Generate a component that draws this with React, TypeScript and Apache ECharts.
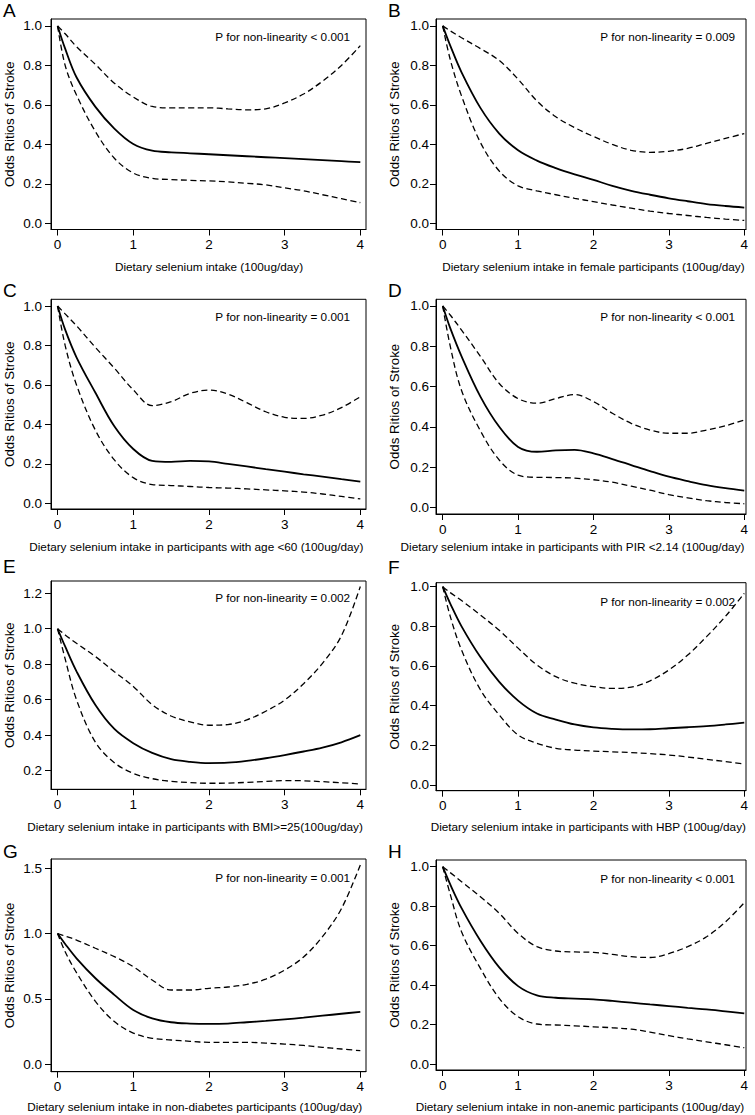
import React, { useEffect, useRef } from "react";
import * as echarts from "echarts";

const FONT = "'Liberation Sans', Arial, Helvetica, sans-serif";

// x positions (100ug/day) at which curves were read
const X = [0, 0.1, 0.25, 0.5, 0.75, 1, 1.25, 1.5, 1.75, 2, 2.25, 2.5, 2.75, 3, 3.25, 3.5, 3.75, 4];

const xTicks = [0, 1, 2, 3, 4];
const yTicksStd = [0, 0.2, 0.4, 0.6, 0.8, 1.0];
const yTicksE = [0.2, 0.4, 0.6, 0.8, 1.0, 1.2];
const yTicksG = [0, 0.5, 1.0, 1.5];

const letters = ["A", "B", "C", "D", "E", "F", "G", "H"];
const xTitles = [
  "Dietary selenium intake (100ug/day)",
  "Dietary selenium intake in female participants (100ug/day)",
  "Dietary selenium intake in participants with age <60 (100ug/day)",
  "Dietary selenium intake in participants with PIR <2.14 (100ug/day)",
  "Dietary selenium intake in participants with BMI>=25(100ug/day)",
  "Dietary selenium intake in participants with HBP (100ug/day)",
  "Dietary selenium intake in non-diabetes participants (100ug/day)",
  "Dietary selenium intake in non-anemic participants (100ug/day)",
];
const pTexts = [
  "P for non-linearity < 0.001",
  "P for non-linearity = 0.009",
  "P for non-linearity = 0.001",
  "P for non-linearity < 0.001",
  "P for non-linearity = 0.002",
  "P for non-linearity = 0.002",
  "P for non-linearity = 0.001",
  "P for non-linearity < 0.001",
];
const yTitle = "Odds Ritios of Stroke";

// Panel A
const aEst = [1.0, 0.885, 0.74, 0.59, 0.48, 0.402, 0.368, 0.36, 0.355, 0.35, 0.345, 0.34, 0.335, 0.33, 0.325, 0.32, 0.315, 0.31];
const aUp = [1.0, 0.96, 0.895, 0.805, 0.71, 0.64, 0.592, 0.585, 0.585, 0.585, 0.58, 0.575, 0.58, 0.61, 0.655, 0.72, 0.8, 0.9];
const aLo = [1.0, 0.8, 0.65, 0.465, 0.33, 0.255, 0.228, 0.222, 0.218, 0.215, 0.21, 0.203, 0.195, 0.18, 0.165, 0.145, 0.125, 0.105];
// Panel B
const bEst = [1.0, 0.9, 0.765, 0.585, 0.455, 0.37, 0.318, 0.28, 0.248, 0.22, 0.19, 0.165, 0.145, 0.127, 0.112, 0.098, 0.088, 0.08];
const bUp = [1.0, 0.975, 0.94, 0.885, 0.825, 0.73, 0.62, 0.54, 0.485, 0.44, 0.4, 0.37, 0.36, 0.365, 0.38, 0.405, 0.43, 0.455];
const bLo = [1.0, 0.83, 0.645, 0.41, 0.265, 0.19, 0.165, 0.145, 0.127, 0.11, 0.093, 0.077, 0.062, 0.05, 0.04, 0.03, 0.022, 0.015];
// Panel C
const cEst = [1.0, 0.88, 0.74, 0.56, 0.39, 0.275, 0.215, 0.21, 0.215, 0.212, 0.2, 0.187, 0.173, 0.16, 0.147, 0.135, 0.122, 0.11];
const cUp = [1.0, 0.96, 0.9, 0.79, 0.685, 0.575, 0.495, 0.515, 0.557, 0.574, 0.554, 0.51, 0.464, 0.436, 0.43, 0.447, 0.485, 0.54];
const cLo = [1.0, 0.8, 0.6, 0.37, 0.22, 0.13, 0.095, 0.09, 0.085, 0.08, 0.077, 0.073, 0.068, 0.063, 0.057, 0.047, 0.035, 0.022];
// Panel D
const dEst = [1.0, 0.89, 0.75, 0.55, 0.4, 0.3, 0.276, 0.283, 0.285, 0.268, 0.24, 0.21, 0.18, 0.152, 0.13, 0.11, 0.095, 0.083];
const dUp = [1.0, 0.955, 0.88, 0.75, 0.615, 0.54, 0.517, 0.54, 0.56, 0.525, 0.467, 0.417, 0.384, 0.368, 0.368, 0.384, 0.405, 0.434];
const dLo = [1.0, 0.8, 0.58, 0.38, 0.235, 0.16, 0.149, 0.148, 0.145, 0.137, 0.125, 0.105, 0.085, 0.063, 0.047, 0.033, 0.024, 0.018];
// Panel E
const eEst = [1.0, 0.9, 0.76, 0.57, 0.435, 0.355, 0.3, 0.265, 0.25, 0.243, 0.245, 0.255, 0.27, 0.288, 0.308, 0.33, 0.36, 0.4];
const eUp = [1.0, 0.965, 0.918, 0.843, 0.758, 0.675, 0.572, 0.508, 0.475, 0.456, 0.46, 0.486, 0.535, 0.598, 0.69, 0.805, 0.96, 1.238];
const eLo = [1.0, 0.83, 0.6, 0.36, 0.245, 0.185, 0.155, 0.14, 0.133, 0.129, 0.13, 0.134, 0.139, 0.144, 0.143, 0.138, 0.132, 0.125];
// Panel F
const fEst = [1.0, 0.915, 0.8, 0.645, 0.52, 0.425, 0.36, 0.33, 0.305, 0.29, 0.283, 0.28, 0.281, 0.286, 0.291, 0.297, 0.305, 0.314];
const fUp = [1.0, 0.97, 0.93, 0.857, 0.78, 0.69, 0.605, 0.546, 0.513, 0.496, 0.487, 0.493, 0.525, 0.58, 0.655, 0.748, 0.85, 0.966];
const fLo = [1.0, 0.85, 0.68, 0.48, 0.353, 0.252, 0.21, 0.185, 0.176, 0.171, 0.167, 0.163, 0.158, 0.151, 0.141, 0.129, 0.118, 0.106];
// Panel G
const gEst = [1.0, 0.92, 0.81, 0.657, 0.53, 0.414, 0.35, 0.32, 0.31, 0.307, 0.31, 0.32, 0.33, 0.342, 0.355, 0.37, 0.385, 0.4];
const gUp = [1.0, 0.98, 0.95, 0.887, 0.823, 0.746, 0.644, 0.567, 0.567, 0.58, 0.59, 0.61, 0.65, 0.72, 0.82, 0.976, 1.19, 1.526];
const gLo = [1.0, 0.86, 0.7, 0.48, 0.325, 0.237, 0.197, 0.184, 0.174, 0.166, 0.166, 0.166, 0.16, 0.153, 0.142, 0.128, 0.115, 0.102];
// Panel H
const hEst = [1.0, 0.91, 0.79, 0.625, 0.49, 0.395, 0.348, 0.336, 0.332, 0.328, 0.32, 0.311, 0.302, 0.294, 0.285, 0.277, 0.267, 0.257];
const hUp = [1.0, 0.97, 0.924, 0.848, 0.764, 0.662, 0.595, 0.573, 0.568, 0.566, 0.556, 0.544, 0.54, 0.56, 0.595, 0.645, 0.72, 0.818];
const hLo = [1.0, 0.86, 0.67, 0.485, 0.333, 0.24, 0.203, 0.198, 0.194, 0.189, 0.184, 0.177, 0.162, 0.144, 0.128, 0.113, 0.098, 0.083];

const estimates = [aEst, bEst, cEst, dEst, eEst, fEst, gEst, hEst];
const uppers = [aUp, bUp, cUp, dUp, eUp, fUp, gUp, hUp];
const lowers = [aLo, bLo, cLo, dLo, eLo, fLo, gLo, hLo];
const yTickSets = [yTicksStd, yTicksStd, yTicksStd, yTicksStd, yTicksE, yTicksStd, yTicksG, yTicksStd];

// layout (pixels) and axis extents per panel
const LEFT = { left: 51, width: 315, xMin: -0.087, xMax: 4.075, labelMargin: 9, letterX: 3, yTitleX: 9, pRight: 350 };
const RIGHT = { left: 436, width: 310, xMin: -0.089, xMax: 4.023, labelMargin: 7, letterX: 388, yTitleX: 394, pRight: 735 };
const layout = [
  { col: LEFT, top: 19, height: 210.5, yMin: -0.031, yMax: 1.035, letterY: 10, pY: 36, xtX: 209, xtY: 266.7 },
  { col: RIGHT, top: 19, height: 210.5, yMin: -0.031, yMax: 1.035, letterY: 10, pY: 36, xtX: 593.4, xtY: 266.7 },
  { col: LEFT, top: 299.3, height: 209.7, yMin: -0.029, yMax: 1.034, letterY: 290, pY: 316.7, xtX: 196.3, xtY: 546.7 },
  { col: RIGHT, top: 299.3, height: 214.7, yMin: -0.033, yMax: 1.033, letterY: 290, pY: 316.7, xtX: 572.5, xtY: 546.7 },
  { col: LEFT, top: 581, height: 208.3, yMin: 0.095, yMax: 1.269, letterY: 566, pY: 597.3, xtX: 195, xtY: 826 },
  { col: RIGHT, top: 582.7, height: 208, yMin: -0.029, yMax: 1.02, letterY: 567.5, pY: 601.7, xtX: 588.3, xtY: 826.7 },
  { col: LEFT, top: 859, height: 212.7, yMin: -0.059, yMax: 1.571, letterY: 851.7, pY: 877.3, xtX: 194.7, xtY: 1106.7 },
  { col: RIGHT, top: 860, height: 210, yMin: -0.03, yMax: 1.034, letterY: 851.7, pY: 878.3, xtX: 580, xtY: 1106.7 },
];

function txt(x: number, y: number, text: string, size: number, align: string, rotation = 0) {
  return {
    type: "text",
    x,
    y,
    rotation,
    silent: true,
    style: {
      text,
      font: `${size}px ${FONT}`,
      fill: "#000",
      align,
      verticalAlign: "middle",
      textAlign: align,
      textVerticalAlign: "middle",
    },
  };
}

export default function App() {
  const ref = useRef<HTMLDivElement>(null);

  useEffect(() => {
    document.body.style.margin = "0";
    if (!ref.current) return;
    const chart = echarts.init(ref.current, undefined, { renderer: "svg" });

    const grids: any[] = [];
    const xAxes: any[] = [];
    const yAxes: any[] = [];
    const series: any[] = [];
    const graphics: any[] = [];

    layout.forEach((L, i) => {
      const C = L.col;
      grids.push({
        left: C.left,
        top: L.top,
        width: C.width,
        height: L.height,
        show: true,
        borderColor: "#000",
        borderWidth: 1,
        backgroundColor: "transparent",
        containLabel: false,
        outerBoundsMode: "none",
      });
      xAxes.push({
        type: "value",
        gridIndex: i,
        min: C.xMin,
        max: C.xMax,
        axisLine: { show: true, onZero: false, lineStyle: { color: "#000", width: 1 } },
        axisTick: { show: true, inside: false, length: 6, customValues: xTicks, lineStyle: { color: "#000", width: 1 } },
        axisLabel: {
          show: true,
          customValues: xTicks,
          margin: 8,
          fontSize: 13.5,
          fontFamily: FONT,
          color: "#000",
          formatter: (v: number) => String(v),
        },
        splitLine: { show: false },
      });
      yAxes.push({
        type: "value",
        gridIndex: i,
        min: L.yMin,
        max: L.yMax,
        axisLine: { show: true, onZero: false, lineStyle: { color: "#000", width: 1 } },
        axisTick: { show: true, inside: false, length: 6, customValues: yTickSets[i], lineStyle: { color: "#000", width: 1 } },
        axisLabel: {
          show: true,
          customValues: yTickSets[i],
          margin: C.labelMargin,
          fontSize: 13.5,
          fontFamily: FONT,
          color: "#000",
          formatter: (v: number) => v.toFixed(1),
        },
        splitLine: { show: false },
      });
      const mk = (vals: number[], dashed: boolean) => ({
        type: "line",
        xAxisIndex: i,
        yAxisIndex: i,
        data: X.map((x, j) => [x, vals[j]]),
        symbol: "none",
        showSymbol: false,
        smooth: 0.35,
        silent: true,
        lineStyle: dashed
          ? { color: "#000", width: 1.3, type: [6, 3.5] }
          : { color: "#000", width: 1.8, type: "solid" },
      });
      series.push(mk(estimates[i], false));
      series.push(mk(uppers[i], true));
      series.push(mk(lowers[i], true));

      graphics.push(txt(C.letterX, L.letterY, letters[i], 19, "left"));
      graphics.push(txt(C.pRight, L.pY, pTexts[i], 11.75, "right"));
      graphics.push(txt(L.xtX, L.xtY, xTitles[i], 11.75, "center"));
      graphics.push(txt(C.yTitleX, L.top + L.height / 2, yTitle, 13.3, "center", Math.PI / 2));
    });

    chart.setOption({
      animation: false,
      backgroundColor: "#fff",
      grid: grids,
      xAxis: xAxes,
      yAxis: yAxes,
      series,
      graphic: { elements: graphics },
    });

    return () => chart.dispose();
  }, []);

  return <div ref={ref} style={{ width: 755, height: 1115 }} />;
}
